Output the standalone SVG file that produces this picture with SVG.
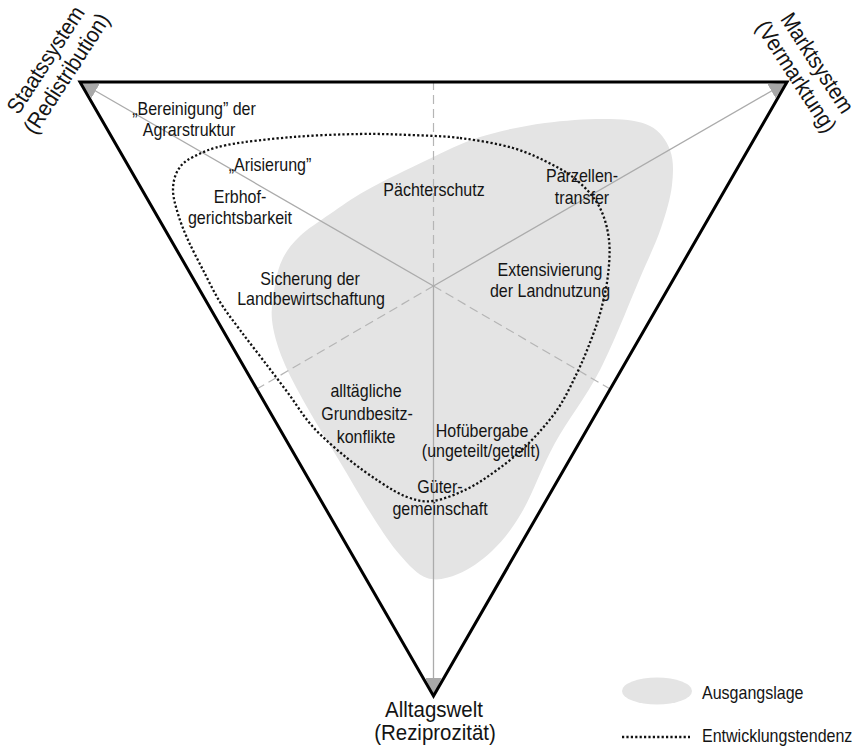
<svg xmlns="http://www.w3.org/2000/svg" width="860" height="752" viewBox="0 0 860 752">
  <style>
    .lbl { font-family: "Liberation Sans", Arial, sans-serif; font-size: 17.5px; fill: #141414; text-anchor: middle; }
    .big { font-family: "Liberation Sans", Arial, sans-serif; font-size: 22.5px; fill: #141414; text-anchor: middle; }
    .leg { font-family: "Liberation Sans", Arial, sans-serif; font-size: 17.5px; fill: #141414; }
    .axis { stroke: #ababab; stroke-width: 1.3; fill: none; }
    .half { stroke: #b5b5b5; stroke-width: 1.2; fill: none; stroke-dasharray: 9 5; }
    .area { fill: #e4e4e4; stroke: none; }
    .trend { fill: none; stroke: #111; stroke-width: 2.3; stroke-dasharray: 2.2 2.2; }
    .frame { fill: none; stroke: #000; stroke-width: 3; stroke-linejoin: miter; }
  </style>
  <defs>
    <marker id="tip" markerUnits="userSpaceOnUse" markerWidth="18" markerHeight="16" refX="18" refY="8" orient="auto">
      <path d="M0,0 L18,8 L0,16 Z" fill="#a8a8a8"/>
    </marker>
  </defs>

  <!-- initial situation: grey region -->
  <g id="ausgangslage">
    <path class="area" d="M272,320 C270.7,307.5 273.2,295.3 275,285 C276.8,274.7 278.8,266.2 283,258 C287.2,249.8 292.2,243.3 300,236 C307.8,228.7 318.8,221.7 330,214 C341.2,206.3 350.8,199 367,190 C383.2,181 408.2,168.8 427,160 C445.8,151.2 460.3,143.2 480,137 C499.7,130.8 523.3,126 545,123 C566.7,120 592.5,118.5 610,119 C627.5,119.5 640,120.8 650,126 C660,131.2 666.3,140.2 670,150 C673.7,159.8 673.5,172 672,185 C670.5,198 666.3,212.5 661,228 C655.7,243.5 650.2,254.3 640,278 C629.8,301.7 614.2,342.5 600,370 C585.8,397.5 568,419.3 555,443 C542,466.7 532.5,494 522,512 C511.5,530 502.7,540.7 492,551 C481.3,561.3 468.8,569.5 458,574 C447.2,578.5 436.7,581.2 427,578 C417.3,574.8 409,565.2 400,555 C391,544.8 383,532.5 373,517 C363,501.5 351,480.3 340,462 C329,443.7 316.5,424 307,407 C297.5,390 288.8,374.5 283,360 C277.2,345.5 273.3,332.5 272,320 Z"/>
  </g>

  <!-- axes: medians from the centre to the corners (solid) and to the side midpoints (dashed) -->
  <g id="connectors">
    <line class="half" x1="433.5" y1="286" x2="433.5" y2="83"/>
    <line class="half" x1="433.5" y1="286" x2="256.8" y2="389"/>
    <line class="half" x1="433.5" y1="286" x2="610.2" y2="389"/>
    <line class="axis" x1="433.5" y1="286" x2="80" y2="82" marker-end="url(#tip)"/>
    <line class="axis" x1="433.5" y1="286" x2="787" y2="82" marker-end="url(#tip)"/>
    <line class="axis" x1="433.5" y1="286" x2="433.5" y2="696" marker-end="url(#tip)"/>
  </g>

  <!-- development trend: dotted loop -->
  <g id="entwicklungstendenz">
    <path class="trend" d="M460,138 C477.2,140.2 497.5,143.5 513,148 C528.5,152.5 541.8,159.2 553,165 C564.2,170.8 572.2,175.8 580,183 C587.8,190.2 595.2,198.5 600,208 C604.8,217.5 607.7,228.8 609,240 C610.3,251.2 609.3,263.3 608,275 C606.7,286.7 603.8,299.2 601,310 C598.2,320.8 595,329.5 591,340 C587,350.5 582.7,361.3 577,373 C571.3,384.7 565.3,398 557,410 C548.7,422 537,435 527,445 C517,455 507,462.7 497,470 C487,477.3 477.7,483.8 467,489 C456.3,494.2 443,499.7 433,501 C423,502.3 415.8,500.2 407,497 C398.2,493.8 390,488.5 380,482 C370,475.5 358.2,467.2 347,458 C335.8,448.8 322.8,437.8 313,427 C303.2,416.2 296.3,404.2 288,393 C279.7,381.8 271,370.5 263,360 C255,349.5 247.2,339.7 240,330 C232.8,320.3 226.2,312 220,302 C213.8,292 208.3,280.3 203,270 C197.7,259.7 192.2,249.3 188,240 C183.8,230.7 180.5,222.3 178,214 C175.5,205.7 173,197.3 173,190 C173,182.7 174.7,175.5 178,170 C181.3,164.5 184.8,161.2 193,157 C201.2,152.8 210.3,148.3 227,145 C243.7,141.7 270.8,138.8 293,137 C315.2,135.2 340.5,134.3 360,134 C379.5,133.7 393.3,134.3 410,135 C426.7,135.7 442.8,135.8 460,138 Z"/>
  </g>

  <!-- outer triangle -->
  <g id="frame">
    <polygon class="frame" points="80,82 787,82 433.5,696"/>
  </g>

  <!-- corner poles -->
  <g id="staatssystem" transform="translate(52,64) rotate(-57)">
    <text class="big" transform="matrix(.91 0 0 1 0 0)">Staatssystem</text>
    <text class="big" transform="matrix(.91 0 0 1 0 25)">(Redistribution)</text>
  </g>
  <g id="marktsystem" transform="translate(811,67) rotate(57)">
    <text class="big" transform="matrix(.9 0 0 1 0 0)">Marktsystem</text>
    <text class="big" transform="matrix(.9 0 0 1 0 25)">(Vermarktung)</text>
  </g>
  <g id="alltagswelt">
    <text class="big" transform="matrix(.91 0 0 1 434 717)">Alltagswelt</text>
    <text class="big" transform="matrix(.91 0 0 1 435 740)">(Reziprozität)</text>
  </g>

  <!-- field labels -->
  <g id="bereinigung">
    <text class="lbl" transform="matrix(.915 0 0 1 194 115)">„Bereinigung” der</text>
    <text class="lbl" transform="matrix(.915 0 0 1 189 136)">Agrarstruktur</text>
  </g>
  <g id="arisierung">
    <text class="lbl" transform="matrix(.915 0 0 1 270 171)">„Arisierung”</text>
  </g>
  <g id="erbhof">
    <text class="lbl" transform="matrix(.915 0 0 1 240 203)">Erbhof-</text>
    <text class="lbl" transform="matrix(.915 0 0 1 240 224)">gerichtsbarkeit</text>
  </g>
  <g id="paechterschutz">
    <text class="lbl" transform="matrix(.915 0 0 1 434 196)">Pächterschutz</text>
  </g>
  <g id="parzellentransfer">
    <text class="lbl" transform="matrix(.915 0 0 1 582 182)">Parzellen-</text>
    <text class="lbl" transform="matrix(.915 0 0 1 582 204)">transfer</text>
  </g>
  <g id="sicherung">
    <text class="lbl" transform="matrix(.915 0 0 1 310 285)">Sicherung der</text>
    <text class="lbl" transform="matrix(.915 0 0 1 311 305)">Landbewirtschaftung</text>
  </g>
  <g id="extensivierung">
    <text class="lbl" transform="matrix(.915 0 0 1 550 276)">Extensivierung</text>
    <text class="lbl" transform="matrix(.915 0 0 1 550 297)">der Landnutzung</text>
  </g>
  <g id="konflikte">
    <text class="lbl" transform="matrix(.915 0 0 1 366 397)">alltägliche</text>
    <text class="lbl" transform="matrix(.915 0 0 1 367 420)">Grundbesitz-</text>
    <text class="lbl" transform="matrix(.915 0 0 1 366 443)">konflikte</text>
  </g>
  <g id="hofuebergabe">
    <text class="lbl" transform="matrix(.915 0 0 1 482 437)">Hofübergabe</text>
    <text class="lbl" transform="matrix(.915 0 0 1 481 457)">(ungeteilt/geteilt)</text>
  </g>
  <g id="guetergemeinschaft">
    <text class="lbl" transform="matrix(.915 0 0 1 440 493)">Güter-</text>
    <text class="lbl" transform="matrix(.915 0 0 1 440 515)">gemeinschaft</text>
  </g>

  <!-- legend -->
  <g id="legend">
    <ellipse class="area" cx="657" cy="691" rx="35" ry="13.5"/>
    <text class="leg" transform="matrix(.915 0 0 1 702 699)">Ausgangslage</text>
    <line class="trend" x1="622" y1="737" x2="690" y2="737"/>
    <text class="leg" transform="matrix(.915 0 0 1 702 742)">Entwicklungstendenz</text>
  </g>
</svg>
